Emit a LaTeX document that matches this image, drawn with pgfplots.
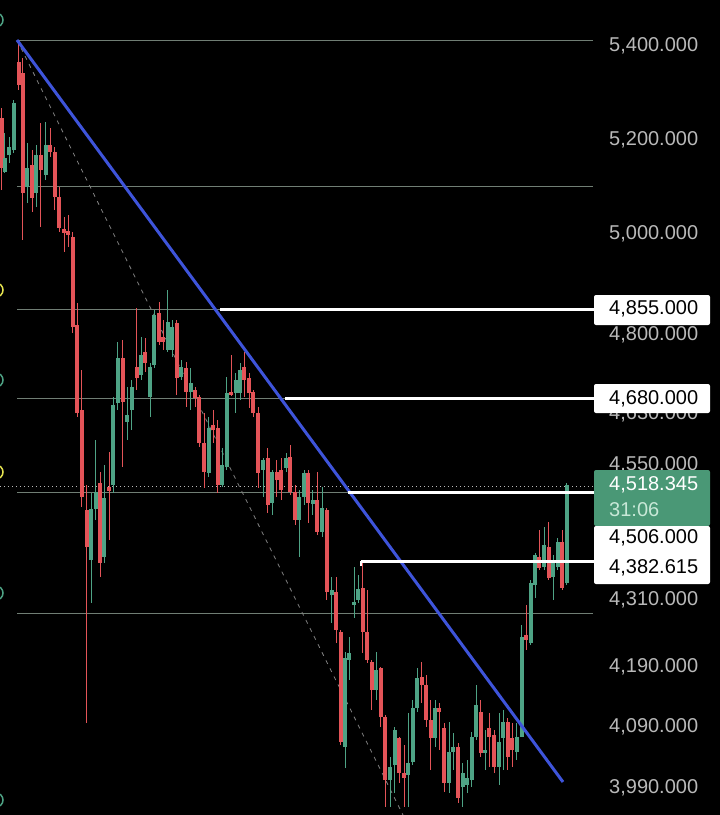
\documentclass[border=0pt]{standalone}
\usepackage{pgfplots}
\usepackage{pgfplotstable}
\pgfplotsset{compat=1.18}
\usepackage{fontspec}
\setmainfont{Liberation Sans}
\definecolor{cred}{RGB}{228,84,88}
\definecolor{cgreen}{RGB}{78,163,133}
\definecolor{cblue}{RGB}{62,84,218}
\definecolor{cgrid}{RGB}{112,126,116}
\definecolor{clabel}{RGB}{185,185,185}
\definecolor{cbox}{RGB}{74,152,118}
\definecolor{cmint}{RGB}{200,232,215}
\definecolor{cyel}{RGB}{230,228,80}

\pgfplotstableread{
x bt bb wt wb
1.5 118 168 108 190
18.7 62 85 40 90
22.7 73 193 58 240
32 165 198 150 212
40.7 155 170 123 227
50 145 152 128 157
54.7 152 197 147 210
59.3 197 228 187 232
64 229 233 217 252
68.3 231 235 215 247
72.7 237 327 232 333
77.3 325 413 303 417
81.7 410 497 370 507
86.7 510 547 485 723
100 483 563 472 577
109 487 491 452 540
122.7 358 402 340 467
136.7 367 378 308 390
145.3 352 363 338 372
159 313 342 302 345
163.3 337 342 320 350
176.7 323 378 320 395
186 368 392 362 407
195 390 398 387 407
199.3 397 443 395 447
204 443 472 413 488
213.3 425 430 410 443
217.7 428 485 420 493
231 392 395 355 396
244.3 367 380 352 397
249 378 393 373 408
253.3 392 413 390 417
258.3 413 473 407 488
267.7 458 505 448 513
276.7 472 480 460 497
281 470 490 458 500
290 457 492 445 495
295 492 520 485 525
308.3 473 503 470 523
317 500 532 472 535
326.7 510 592 508 600
336 592 630 577 643
340.7 632 742 630 745
362.7 588 632 560 653
367.3 632 660 590 663
371.7 662 690 660 710
380.7 668 717 667 727
385.3 717 780 715 807
399.3 738 773 737 783
404 773 778 745 807
421.7 677 685 662 703
426 685 720 675 727
430.7 720 738 700 770
439.3 708 712 703 750
444 728 783 723 792
458.3 747 798 743 803
480.7 712 753 700 757
489.3 728 737 713 767
494 735 767 730 773
507.7 722 757 718 770
512.3 738 750 723 767
526 635 640 605 650
539.3 557 568 530 570
548.7 547 578 522 580
562.3 542 588 530 590
}\redtab

\pgfplotstableread{
x bt bb wt wb
4.7 158 172 133 173
9 147 155 137 163
13.7 103 150 100 153
27.3 168 187 143 203
36 155 193 145 207
45.7 145 175 122 180
91 509 560 493 603
95.7 492 509 440 520
104.3 498 557 465 563
113.3 405 485 397 493
117.7 358 403 342 410
127.3 415 422 387 440
131.7 387 410 380 430
141 355 375 337 380
150 367 397 363 417
154.3 315 365 310 368
167.7 322 350 290 352
172 327 350 320 357
181.3 367 377 360 380
190.7 383 392 368 410
208.7 428 473 417 477
222.3 465 485 448 487
226.7 393 467 377 470
235.7 380 393 373 413
240 370 393 363 400
263.3 460 470 458 497
272.3 472 503 470 515
286 458 468 453 472
299.3 497 520 490 557
304 473 497 470 505
312.7 500 504 490 515
322.3 508 532 487 537
331.7 590 595 577 623
345 658 747 652 768
349.3 653 660 637 680
354 602 605 567 618
358.3 589 600 575 603
376 670 690 652 700
390 767 780 757 807
394.7 730 765 727 793
408.3 763 775 713 807
412.7 708 762 700 765
417.3 678 708 668 712
435 708 738 700 747
449 752 783 722 793
453.3 747 752 733 770
462.7 773 787 763 807
467.3 778 785 760 793
471.7 737 780 732 787
476 705 737 685 740
485 750 753 730 770
499 742 767 713 785
503.3 722 738 710 770
516.7 737 752 723 760
521.7 637 737 625 737
530.7 583 643 580 645
535 555 585 553 598
544 545 567 527 570
553.3 563 577 555 600
557.7 542 567 538 570
566.7 485 583 483 585
}\greentab

\begin{document}
\begin{tikzpicture}
\fill[black] (0,0) rectangle (720pt,815pt);
\begin{axis}[at={(0,0)}, anchor=south west, scale only axis,
  width=720pt, height=815pt, xmin=0, xmax=720, ymin=0, ymax=815,
  y dir=reverse, hide axis, clip=true]

% grey horizontal levels
\addplot[cgrid, line width=0.8pt] coordinates {(17,40) (593,40)};
\addplot[cgrid, line width=0.8pt] coordinates {(17,186.5) (593,186.5)};
\addplot[cgrid, line width=0.8pt] coordinates {(17,309) (220,309)};
\addplot[cgrid, line width=0.8pt] coordinates {(17,398) (285,398)};
\addplot[cgrid, line width=0.8pt] coordinates {(17,492) (348,492)};
\addplot[cgrid, line width=0.8pt] coordinates {(17,613) (593,613)};
% dotted price line
\addplot[clabel, line width=0.6pt, dash pattern=on 1pt off 3pt] coordinates {(0,486) (594,486)};
% dashed diagonal
\addplot[gray, line width=0.8pt, dash pattern=on 4pt off 5pt] coordinates {(17,40) (403,815)};

% wicks
\addplot[draw=none, mark=none, error bars/.cd, y dir=both, y explicit,
  error mark=none, error bar style={draw=cred, line width=1pt}]
  table[x=x, y expr={(\thisrow{wt}+\thisrow{wb})/2}, y error expr={(\thisrow{wb}-\thisrow{wt})/2}] {\redtab};
\addplot[draw=none, mark=none, error bars/.cd, y dir=both, y explicit,
  error mark=none, error bar style={draw=cgreen, line width=1pt}]
  table[x=x, y expr={(\thisrow{wt}+\thisrow{wb})/2}, y error expr={(\thisrow{wb}-\thisrow{wt})/2}] {\greentab};
% bodies
\addplot[draw=none, mark=none, error bars/.cd, y dir=both, y explicit,
  error mark=none, error bar style={draw=cred, line width=4pt}]
  table[x=x, y expr={(\thisrow{bt}+\thisrow{bb})/2}, y error expr={(\thisrow{bb}-\thisrow{bt})/2}] {\redtab};
\addplot[draw=none, mark=none, error bars/.cd, y dir=both, y explicit,
  error mark=none, error bar style={draw=cgreen, line width=4pt}]
  table[x=x, y expr={(\thisrow{bt}+\thisrow{bb})/2}, y error expr={(\thisrow{bb}-\thisrow{bt})/2}] {\greentab};

% trend line
\addplot[cblue, line width=3pt] coordinates {(17,40) (563,782)};

% white levels
\addplot[white, line width=3pt] coordinates {(220,309) (594,309)};
\addplot[white, line width=3pt] coordinates {(285,398.5) (594,398.5)};
\addplot[white, line width=3pt] coordinates {(348,492) (594,492)};
\addplot[white, line width=3pt] coordinates {(361,561) (594,561)};
\addplot[white, line width=1.2pt] coordinates {(361,561) (361,566)};

% left edge markers
\draw[cgreen, line width=1.5pt] (axis cs:-4,20) circle[radius=7pt];
\draw[cyel, line width=1.5pt] (axis cs:-4,290) circle[radius=7pt];
\draw[cgreen, line width=1.5pt] (axis cs:-4,380) circle[radius=7pt];
\draw[cyel, line width=1.5pt] (axis cs:-4,472) circle[radius=7pt];
\draw[cgreen, line width=1.5pt] (axis cs:-4,593) circle[radius=7pt];
\draw[cgreen, line width=1.5pt] (axis cs:-4,800) circle[radius=7pt];

% price labels
\begin{scope}[every node/.style={anchor=west, inner sep=0pt, font=\fontsize{20}{24}\selectfont}]
\node[text=clabel] at (axis cs:609,46) {5,400.000};
\node[text=clabel] at (axis cs:609,140) {5,200.000};
\node[text=clabel] at (axis cs:609,234) {5,000.000};
\node[text=clabel] at (axis cs:609,335) {4,800.000};
\node[text=clabel] at (axis cs:609,414) {4,630.000};
\node[text=clabel] at (axis cs:609,465) {4,550.000};
\node[text=clabel] at (axis cs:609,600) {4,310.000};
\node[text=clabel] at (axis cs:609,667) {4,190.000};
\node[text=clabel] at (axis cs:609,727) {4,090.000};
\node[text=clabel] at (axis cs:609,788) {3,990.000};
\fill[white, rounded corners=2pt] (axis cs:594,295) rectangle (axis cs:710,325);
\node[text=black] at (axis cs:609,309) {4,855.000};
\fill[white, rounded corners=2pt] (axis cs:594,384) rectangle (axis cs:710,413);
\node[text=black] at (axis cs:609,398.5) {4,680.000};
\fill[cbox, rounded corners=2pt] (axis cs:594,470) rectangle (axis cs:710,526);
\node[text=white] at (axis cs:609,485) {4,518.345};
\node[text=cmint] at (axis cs:609,510) {31:06};
\fill[white, rounded corners=2pt] (axis cs:594,526) rectangle (axis cs:710,584);
\node[text=black] at (axis cs:609,538) {4,506.000};
\node[text=black] at (axis cs:609,568) {4,382.615};
\end{scope}
\end{axis}
\pgfresetboundingbox
\path[use as bounding box] (0,0) rectangle (720pt,815pt);
\end{tikzpicture}
\end{document}
